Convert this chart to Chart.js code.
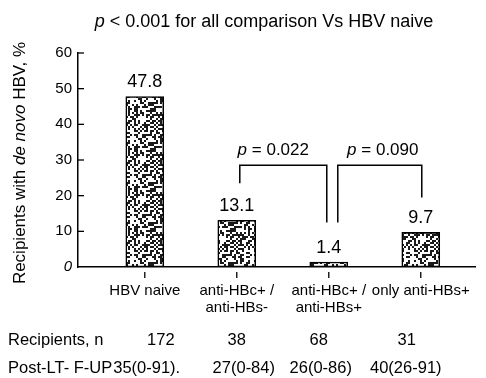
<!DOCTYPE html>
<html>
<head>
<meta charset="utf-8">
<script src="https://cdn.jsdelivr.net/npm/chart.js@4.4.0/dist/chart.umd.min.js"></script>
<style>
  html, body { margin: 0; padding: 0; background: #fff; }
  #wrap { width: 486px; height: 378px; }
</style>
</head>
<body>
<div id="wrap"><canvas id="c" width="486" height="378"></canvas></div>
<script>
// Recipient groups and de novo HBV rates (%)
const categories = [['HBV naive'], ['anti-HBc+ /', 'anti-HBs-'], ['anti-HBc+ /', 'anti-HBs+'], ['only anti-HBs+']];
const deNovoRate = [47.8, 13.1, 1.4, 9.7];
const yTicks = [0, 10, 20, 30, 40, 50, 60];
const recipientsN = ['172', '38', '68', '31'];
const followUp = ['35(0-91).', '27(0-84)', '26(0-86)', '40(26-91)'];
const comparisons = [[1, 2], [2, 3]];
const comparisonP = ['0.022', '0.090'];
const overallP = '0.001';

const FONT = '"Liberation Sans", Arial, Helvetica, sans-serif';
const canvas = document.getElementById('c');
const ctx = canvas.getContext('2d');

// Stippled fill for the bars, built from a fixed integer hash
function stipple() {
  const t = document.createElement('canvas');
  t.width = t.height = 40;
  const g = t.getContext('2d');
  g.fillStyle = '#fff';
  g.fillRect(0, 0, 40, 40);
  g.fillStyle = '#1a1a1a';
  for (let j = 0; j < 20; j++) {
    for (let i = 0; i < 20; i++) {
      let h = Math.imul(i, 374761393) + Math.imul(j, 668265263);
      h = Math.imul(h ^ (h >>> 13), 1274126177);
      h ^= h >>> 16;
      if (((h >>> 0) & 255) < 120) g.fillRect(i * 2, j * 2, 2, 2);
    }
  }
  return ctx.createPattern(t, 'repeat');
}

function italicPText(g, x, y, rest, size, align) {
  g.font = 'italic ' + size + 'px ' + FONT;
  const wp = g.measureText('p').width;
  g.font = size + 'px ' + FONT;
  const wr = g.measureText(rest).width;
  let x0 = align === 'center' ? x - (wp + wr) / 2 : x;
  g.textAlign = 'left';
  g.font = 'italic ' + size + 'px ' + FONT;
  g.fillText('p', x0, y);
  g.font = size + 'px ' + FONT;
  g.fillText(rest, x0 + wp, y);
}

const annotations = {
  id: 'annotations',
  afterDraw(chart) {
    const g = chart.ctx;
    const xs = chart.scales.x, ys = chart.scales.y;
    const area = chart.chartArea;
    g.save();
    g.fillStyle = '#000';
    g.strokeStyle = '#000';
    g.textBaseline = 'middle';

    // heading
    italicPText(g, 264, 22, ' < ' + overallP + ' for all comparison Vs HBV naive', 18, 'center');

    // y axis title with italic "de novo"
    g.save();
    g.translate(20, 163);
    g.rotate(-Math.PI / 2);
    const parts = [['Recipients with ', ''], ['de novo', 'italic '], [' HBV, %', '']];
    let total = 0;
    parts.forEach(p => { g.font = p[1] + '17px ' + FONT; total += g.measureText(p[0]).width; });
    let px = -total / 2;
    g.textAlign = 'left';
    parts.forEach(p => { g.font = p[1] + '17px ' + FONT; g.fillText(p[0], px, 0); px += g.measureText(p[0]).width; });
    g.restore();

    // inward y ticks
    g.lineWidth = 1.3;
    ys.ticks.forEach(t => {
      if (t.value === 0) return;
      const y = ys.getPixelForValue(t.value);
      g.beginPath(); g.moveTo(area.left, y); g.lineTo(area.left + 6, y); g.stroke();
    });

    // short category marks under the axis
    categories.forEach((_, i) => {
      const x = xs.getPixelForValue(i);
      g.beginPath(); g.moveTo(x, area.bottom + 5); g.lineTo(x, area.bottom + 11); g.stroke();
    });

    // values above the bars
    const meta = chart.getDatasetMeta(0);
    g.textAlign = 'center';
    g.font = '18px ' + FONT;
    meta.data.forEach((bar, i) => {
      g.fillText(deNovoRate[i].toFixed(1), bar.x, bar.y - 14);
    });

    // pairwise comparison brackets
    const topY = ys.getPixelForValue(28.5);
    const legEnds = [[23.5, 12.5], [12.5, 19.5]];
    const xShift = [[3, -2], [9, 1]];
    const labelShift = [-10, 3];
    g.lineWidth = 1.5;
    comparisons.forEach((pair, k) => {
      const x1 = xs.getPixelForValue(pair[0]) + xShift[k][0];
      const x2 = xs.getPixelForValue(pair[1]) + xShift[k][1];
      g.beginPath();
      g.moveTo(x1, ys.getPixelForValue(legEnds[k][0]));
      g.lineTo(x1, topY);
      g.lineTo(x2, topY);
      g.lineTo(x2, ys.getPixelForValue(legEnds[k][1]));
      g.stroke();
      italicPText(g, (x1 + x2) / 2 + labelShift[k], 150, ' = ' + comparisonP[k], 17, 'center');
    });

    // table under the axis
    g.font = '16.5px ' + FONT;
    g.textAlign = 'left';
    g.fillText('Recipients, n', 8, 340);
    const fuLabel = 'Post-LT- F-UP';
    g.fillText(fuLabel, 8, 368);
    g.fillText(followUp[0], 8 + g.measureText(fuLabel).width + 1, 368);
    const nShift = [16, 0, -10, -14];
    const fShift = [0, 7, -8, -15];
    g.textAlign = 'center';
    recipientsN.forEach((s, i) => g.fillText(s, xs.getPixelForValue(i) + nShift[i], 340));
    followUp.forEach((s, i) => { if (i > 0) g.fillText(s, xs.getPixelForValue(i) + fShift[i], 368); });
    g.restore();
  }
};

new Chart(ctx, {
  type: 'bar',
  data: {
    datasets: [{
      data: deNovoRate.map((v, i) => ({ x: i, y: v })),
      backgroundColor: stipple(),
      borderColor: '#000',
      borderWidth: 1.6,
      borderSkipped: false,
      barThickness: 38
    }]
  },
  options: {
    responsive: false,
    animation: false,
    devicePixelRatio: 1,
    layout: { padding: { top: 53, right: 9, left: 0, bottom: 0 } },
    plugins: { legend: { display: false }, tooltip: { enabled: false }, title: { display: false } },
    scales: {
      x: {
        type: 'linear',
        offset: false,
        min: -0.726,
        max: 3.596,
        afterBuildTicks: s => { s.ticks = categories.map((_, i) => ({ value: i })); },
        afterFit: s => { s.height = 111; },
        grid: { display: false, drawTicks: false, offset: false },
        border: { display: true, color: '#000', width: 1.5 },
        ticks: {
          autoSkip: false,
          maxRotation: 0,
          padding: 15,
          color: '#000',
          font: { family: FONT, size: 15, lineHeight: 1.15 },
          callback: (v, i) => categories[i]
        }
      },
      y: {
        min: 0,
        max: 60,
        afterBuildTicks: s => { s.ticks = yTicks.map(v => ({ value: v })); },
        afterFit: s => { s.width = 78; },
        grid: { display: false, drawTicks: false },
        border: { display: true, color: '#000', width: 1.5 },
        ticks: {
          padding: 6,
          color: '#000',
          font: c => ({ family: FONT, size: 15, style: (c.tick && c.tick.value === 0) ? 'italic' : 'normal' }),
          callback: v => String(v)
        }
      }
    }
  },
  plugins: [annotations]
});
</script>
</body>
</html>
